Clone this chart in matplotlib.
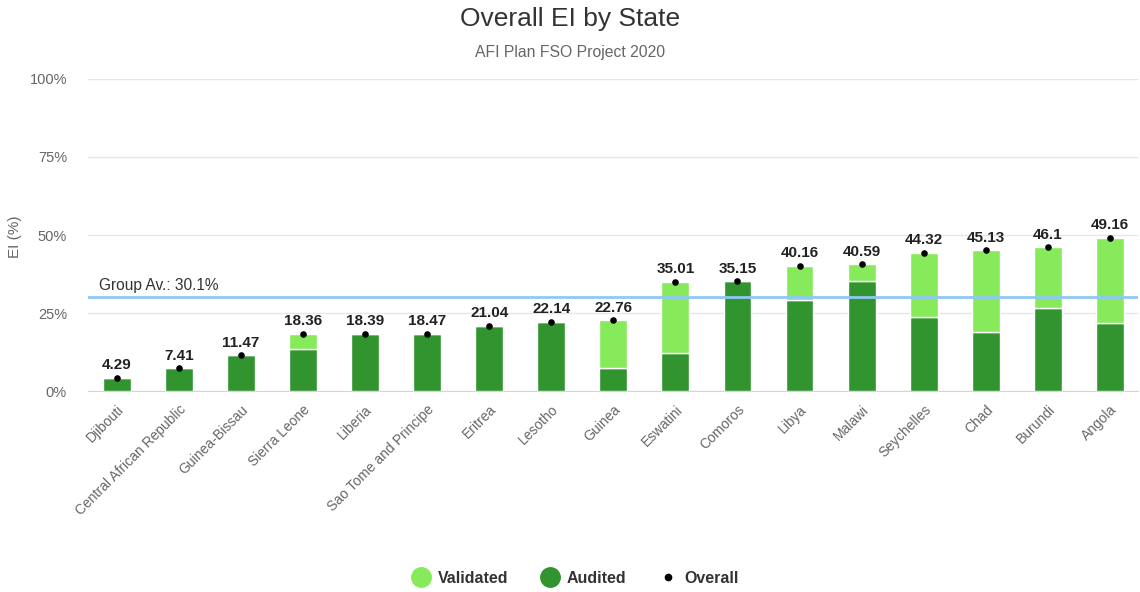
import matplotlib.pyplot as plt
from matplotlib.lines import Line2D

plt.rcParams["font.family"] = ["Liberation Sans", "DejaVu Sans"]

states = ["Djibouti", "Central African Republic", "Guinea-Bissau", "Sierra Leone",
          "Liberia", "Sao Tome and Principe", "Eritrea", "Lesotho", "Guinea",
          "Eswatini", "Comoros", "Libya", "Malawi", "Seychelles", "Chad",
          "Burundi", "Angola"]
overall = [4.29, 7.41, 11.47, 18.36, 18.39, 18.47, 21.04, 22.14, 22.76,
           35.01, 35.15, 40.16, 40.59, 44.32, 45.13, 46.1, 49.16]
audited = [4.29, 7.41, 11.47, 13.6, 18.39, 18.47, 21.04, 22.14, 7.6,
           12.4, 35.15, 29.2, 35.2, 23.7, 19.1, 26.5, 21.7]
validated = [o - a for o, a in zip(overall, audited)]
group_avg = 30.1

dark_green = "#31942f"
light_green = "#86ea5b"

fig = plt.figure(figsize=(11.4, 5.92), dpi=100)
ax = fig.add_axes([0.077, 0.339, 0.921, 0.528])

x = range(len(states))
ax.bar(x, audited, width=0.45, color=dark_green, edgecolor="white", linewidth=1, zorder=3)
ax.bar(x, validated, width=0.45, bottom=audited, color=light_green,
       edgecolor="white", linewidth=1, zorder=3)
ax.scatter(x, overall, s=14, color="black", zorder=5)
for xi, v in zip(x, overall):
    ax.text(xi, v + 1.8, f"{v:g}", ha="center", va="bottom", fontsize=11,
            fontweight="bold", color="#222222", zorder=6)

ax.axhline(group_avg, color="#90c8f5", linewidth=2, zorder=4)
ax.text(0.011, group_avg + 1.5, f"Group Av.: {group_avg}%", ha="left", va="bottom",
        fontsize=11.2, color="#333333", transform=ax.get_yaxis_transform())

ax.set_xlim(-0.47, len(states) - 0.55)
ax.set_ylim(0, 100)
ax.set_yticks([0, 25, 50, 75, 100])
ax.set_yticklabels(["0%", "25%", "50%", "75%", "100%"], color="#666666", fontsize=10.5)
ax.grid(axis="y", color="#e6e6e6", linewidth=1, zorder=0)
ax.set_xticks(list(x))
ax.set_xticklabels(states, rotation=45, ha="right", rotation_mode="anchor",
                   color="#666666", fontsize=10)
ax.tick_params(axis="x", length=0, pad=8)
ax.tick_params(axis="y", length=0, pad=15)
for side in ["top", "right", "left"]:
    ax.spines[side].set_visible(False)
ax.spines["bottom"].set_color("#ccd6eb")

fig.text(0.013, 0.6, "EI (%)", rotation=90, ha="center", va="center",
         color="#666666", fontsize=11)
fig.text(0.5, 0.968, "Overall EI by State", ha="center", va="center",
         fontsize=19, color="#333333")
fig.text(0.5, 0.912, "AFI Plan FSO Project 2020", ha="center", va="center",
         fontsize=11.3, color="#666666")

handles = [
    Line2D([], [], marker="o", linestyle="none", markersize=14, color=light_green),
    Line2D([], [], marker="o", linestyle="none", markersize=14, color=dark_green),
    Line2D([], [], marker="o", linestyle="none", markersize=4.5, color="black"),
]
leg = fig.legend(handles, ["Validated", "Audited", "Overall"], loc="center",
                 bbox_to_anchor=(0.502, 0.023), ncol=3, frameon=False,
                 prop={"weight": "bold", "size": 11.5},
                 handletextpad=0.05, columnspacing=1.6)
for t in leg.get_texts():
    t.set_color("#333333")

fig.savefig("out.png", dpi=100)
